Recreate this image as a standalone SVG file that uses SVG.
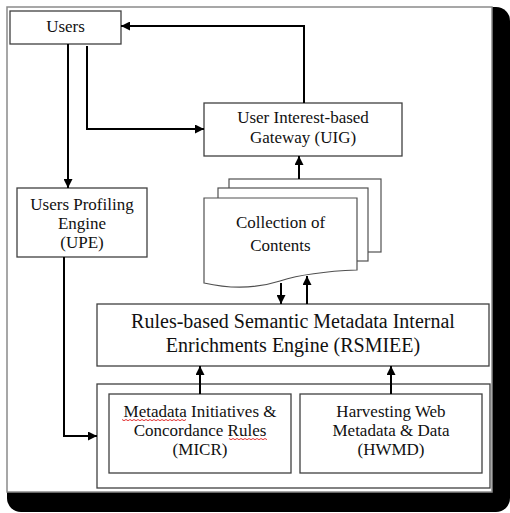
<svg xmlns="http://www.w3.org/2000/svg" width="510" height="513" viewBox="0 0 510 513">
<defs>
<style>
.box{fill:#fff;stroke:#404040;stroke-width:1.3}
.page{fill:#fff;stroke:#505050;stroke-width:1.2}
.t{font-family:"Liberation Serif","Times New Roman",serif;font-size:17px;fill:#111;text-anchor:middle}
.tb{font-family:"Liberation Serif","Times New Roman",serif;font-size:20px;fill:#111;text-anchor:middle}
.c{fill:none;stroke:#000;stroke-width:2;marker-end:url(#ah)}
.sp{fill:none;stroke:#e02020;stroke-width:0.9}
</style>
<marker id="ah" viewBox="0 0 10 10" refX="10" refY="5" markerUnits="userSpaceOnUse" markerWidth="9" markerHeight="9" orient="auto">
<path d="M0,0 L10,5 L0,10 z" fill="#000"/>
</marker>
</defs>
<rect x="0" y="0" width="510" height="513" fill="#fff"/>
<rect x="7" y="7" width="503" height="505" rx="14" fill="#000"/>
<rect x="7" y="7" width="485" height="485" fill="#fff" stroke="#8a8a8a" stroke-width="1.5"/>

<g id="users">
<rect class="box" x="10" y="11" width="111" height="33"/>
<text class="t" x="65.5" y="32">Users</text>
</g>

<g id="uig">
<rect class="box" x="204" y="103" width="198" height="53"/>
<text class="t" x="303" y="123">User Interest-based</text>
<text class="t" x="303" y="143">Gateway (UIG)</text>
</g>

<g id="upe">
<rect class="box" x="17" y="188" width="130" height="69"/>
<text class="t" x="82" y="210">Users Profiling</text>
<text class="t" x="82" y="229">Engine</text>
<text class="t" x="82" y="248">(UPE)</text>
</g>

<g id="collection">
<rect class="page" x="229" y="179" width="152" height="73"/>
<rect class="page" x="218" y="188" width="150" height="73"/>
<path class="page" d="M204,198 H357 V270 C330,271 305,273 280,281 C258,288 235,290 204,283 Z"/>
<text class="t" x="280.5" y="228">Collection of</text>
<text class="t" x="280.5" y="251">Contents</text>
</g>

<g id="rsmiee">
<rect class="box" x="97" y="304" width="392" height="62"/>
<text class="tb" x="293" y="328">Rules-based Semantic Metadata Internal</text>
<text class="tb" x="293" y="352">Enrichments Engine (RSMIEE)</text>
</g>

<g id="sources">
<rect class="box" x="97" y="384" width="393" height="104" stroke="#606060"/>
</g>

<g id="micr">
<rect class="box" x="109" y="394" width="182" height="79"/>
<text class="t" x="200" y="417">Metadata Initiatives &amp;</text>
<text class="t" x="200" y="436">Concordance Rules</text>
<text class="t" x="200" y="455">(MICR)</text>
<path class="sp" d="M122,419.5 l2,1.2 l2,-1.2 l2,1.2 l2,-1.2 l2,1.2 l2,-1.2 l2,1.2 l2,-1.2 l2,1.2 l2,-1.2 l2,1.2 l2,-1.2 l2,1.2 l2,-1.2 l2,1.2 l2,-1.2 l2,1.2 l2,-1.2 l2,1.2 l2,-1.2 l2,1.2 l2,-1.2 l2,1.2 l2,-1.2 l2,1.2 l2,-1.2 l2,1.2 l2,-1.2 l2,1.2 l2,-1.2 l2,1.2 l2,-1.2"/>
<path class="sp" d="M229,438.5 l2,1.2 l2,-1.2 l2,1.2 l2,-1.2 l2,1.2 l2,-1.2 l2,1.2 l2,-1.2 l2,1.2 l2,-1.2 l2,1.2 l2,-1.2 l2,1.2 l2,-1.2 l2,1.2 l2,-1.2 l2,1.2 l2,-1.2 l2,1.2"/>
</g>

<g id="hwmd">
<rect class="box" x="300" y="394" width="182" height="79"/>
<text class="t" x="391" y="417">Harvesting Web</text>
<text class="t" x="391" y="436">Metadata &amp; Data</text>
<text class="t" x="391" y="455">(HWMD)</text>
</g>

<g id="connectors">
<path class="c" d="M304,103 V26 H121"/>
<path class="c" d="M87,46 V129 H204"/>
<path class="c" d="M68,44 V188"/>
<path class="c" d="M64,257 V436 H97"/>
<path class="c" d="M299,179 V156"/>
<path class="c" d="M281,283 V304"/>
<path class="c" d="M307,304 V276"/>
<path class="c" d="M200,394 V366"/>
<path class="c" d="M391,394 V366"/>
</g>
</svg>
